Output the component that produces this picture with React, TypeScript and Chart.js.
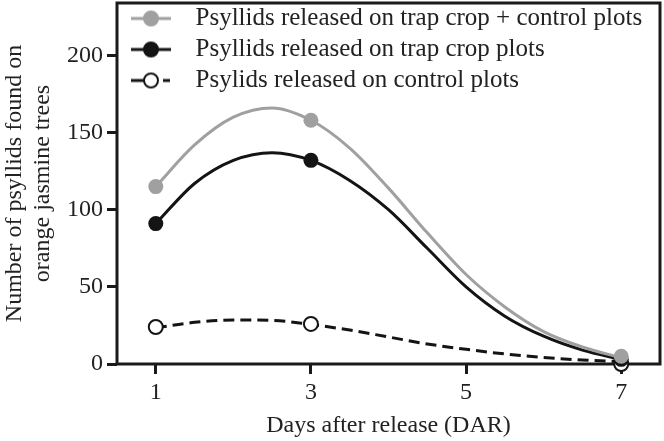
import { useEffect, useRef } from 'react';
import { Chart, registerables } from 'chart.js';

Chart.register(...registerables);

// Observed data (days after release)
const days = [1, 3, 7];
const bothPlots = [115, 158, 5];
const trapPlots = [91, 132, 3];
const controlPlots = [24, 26, 0];

// Fitted curves
const curveDays = [1, 1.5, 2, 2.5, 3, 3.5, 4, 4.5, 5, 5.5, 6, 6.5, 7];
const bothCurve = [115, 142, 160, 166, 158, 140, 114, 85, 58, 37, 21, 11, 4];
const trapCurve = [91, 117, 132, 137, 132, 119, 100, 75, 50, 31, 18, 9, 3];
const controlCurve = [23.5, 27, 28.5, 28.3, 25.6, 22, 17.5, 13, 9.5, 6.5, 4.2, 2.6, 1.5];

const xTicks = [1, 3, 5, 7];
const yTicks = [0, 50, 100, 150, 200];
const seriesLabels = [
  'Psyllids released on trap crop + control plots',
  'Psyllids released on trap crop plots',
  'Psylids released on control plots',
];
const xTitle = 'Days after release (DAR)';
const yTitle = ['Number of psyllids found on', 'orange jasmine trees'];

const GRAY = '#a0a0a0';
const BLACK = '#141414';
const AXIS = '#1a1a1a';
const TEXT = '#222222';
const FONT = "'Liberation Serif', 'Times New Roman', serif";

function legendIcon(color: string, fill: string, dashed: boolean): HTMLCanvasElement {
  const c = document.createElement('canvas');
  c.width = 60;
  c.height = 20;
  const g = c.getContext('2d')!;
  g.strokeStyle = color;
  g.lineWidth = 3;
  if (dashed) {
    g.beginPath();
    g.moveTo(8, 10);
    g.lineTo(22, 10);
    g.stroke();
    g.setLineDash([7, 5]);
    g.beginPath();
    g.moveTo(28, 10);
    g.lineTo(50, 10);
    g.stroke();
    g.setLineDash([]);
  } else {
    g.beginPath();
    g.moveTo(8, 10);
    g.lineTo(48, 10);
    g.stroke();
  }
  g.beginPath();
  g.arc(28, 10, 7, 0, Math.PI * 2);
  g.fillStyle = fill;
  g.fill();
  g.lineWidth = 2;
  g.strokeStyle = color;
  g.stroke();
  return c;
}

const framePlugin = {
  id: 'frame',
  beforeDatasetsDraw(chart: any) {
    const { ctx, chartArea } = chart;
    ctx.save();
    ctx.strokeStyle = AXIS;
    ctx.lineWidth = 3;
    ctx.strokeRect(chartArea.left, chartArea.top, chartArea.right - chartArea.left, chartArea.bottom - chartArea.top);
    ctx.restore();
  },
};

export default function App() {
  const ref = useRef<HTMLCanvasElement | null>(null);

  useEffect(() => {
    if (!ref.current) return;
    const icons = [
      legendIcon(GRAY, GRAY, false),
      legendIcon(BLACK, BLACK, false),
      legendIcon(BLACK, '#ffffff', true),
    ];
    const pts = (ys: number[]) => days.map((d, i) => ({ x: d, y: ys[i] }));
    const crv = (ys: number[]) => curveDays.map((d, i) => ({ x: d, y: ys[i] }));

    const chart = new Chart(ref.current, {
      type: 'line',
      data: {
        datasets: [
          {
            label: seriesLabels[0],
            data: pts(bothPlots),
            showLine: false,
            pointRadius: 7.5,
            pointBackgroundColor: GRAY,
            pointBorderColor: GRAY,
            pointBorderWidth: 0,
            clip: false,
          },
          {
            label: seriesLabels[0] + ' fit',
            data: crv(bothCurve),
            borderColor: GRAY,
            borderWidth: 3,
            pointRadius: 0,
            cubicInterpolationMode: 'monotone',
            fill: false,
          },
          {
            label: seriesLabels[1],
            data: pts(trapPlots),
            showLine: false,
            pointRadius: 7.5,
            pointBackgroundColor: BLACK,
            pointBorderColor: BLACK,
            pointBorderWidth: 0,
            clip: false,
          },
          {
            label: seriesLabels[1] + ' fit',
            data: crv(trapCurve),
            borderColor: BLACK,
            borderWidth: 3,
            pointRadius: 0,
            cubicInterpolationMode: 'monotone',
            fill: false,
          },
          {
            label: seriesLabels[2],
            data: pts(controlPlots),
            showLine: false,
            pointRadius: 7,
            pointBackgroundColor: '#ffffff',
            pointBorderColor: BLACK,
            pointBorderWidth: 2,
            clip: false,
          },
          {
            label: seriesLabels[2] + ' fit',
            data: crv(controlCurve),
            borderColor: BLACK,
            borderWidth: 3,
            borderDash: [11, 6],
            pointRadius: 0,
            cubicInterpolationMode: 'monotone',
            fill: false,
          },
        ],
      },
      options: {
        responsive: false,
        animation: false,
        events: [],
        layout: { autoPadding: false, padding: { top: 3, right: 4, bottom: 0, left: 0 } },
        scales: {
          x: {
            type: 'linear',
            min: 0.5,
            max: 7.5,
            afterBuildTicks: (s: any) => {
              s.ticks = xTicks.map((v) => ({ value: v }));
            },
            afterFit: (s: any) => {
              s.height = 77;
              s.paddingLeft = 0;
              s.paddingRight = 0;
            },
            border: { display: false },
            grid: {
              display: true,
              drawOnChartArea: false,
              drawTicks: true,
              tickLength: 10,
              tickWidth: 3,
              tickColor: AXIS,
            },
            ticks: {
              color: TEXT,
              padding: 4,
              font: { family: FONT, size: 24 },
              maxRotation: 0,
            },
            title: {
              display: true,
              text: xTitle,
              color: TEXT,
              font: { family: FONT, size: 24 },
              padding: { top: 0, bottom: 1 },
            },
          },
          y: {
            type: 'linear',
            min: 0,
            max: 234,
            afterBuildTicks: (s: any) => {
              s.ticks = yTicks.map((v) => ({ value: v }));
            },
            afterFit: (s: any) => {
              s.width = 117;
              s.paddingTop = 0;
              s.paddingBottom = 0;
            },
            border: { display: false },
            grid: {
              display: true,
              drawOnChartArea: false,
              drawTicks: true,
              tickLength: 10,
              tickWidth: 3,
              tickColor: AXIS,
            },
            ticks: {
              color: TEXT,
              padding: 4,
              font: { family: FONT, size: 24 },
            },
            title: {
              display: true,
              text: yTitle,
              color: TEXT,
              font: { family: FONT, size: 24, lineHeight: 1.2 },
              padding: { top: 0, bottom: 0 },
            },
          },
        },
        plugins: {
          tooltip: { enabled: false },
          legend: {
            display: true,
            position: 'chartArea',
            align: 'start',
            labels: {
              usePointStyle: true,
              pointStyleWidth: 60,
              padding: 6,
              color: TEXT,
              font: { family: FONT, size: 25 },
              generateLabels: () =>
                seriesLabels.map((t, i) => ({
                  text: t,
                  pointStyle: icons[i] as any,
                  fillStyle: 'transparent',
                  strokeStyle: 'transparent',
                  lineWidth: 0,
                  hidden: false,
                  datasetIndex: i * 2,
                  fontColor: TEXT,
                })),
            },
          },
        },
      } as any,
      plugins: [framePlugin],
    });
    return () => chart.destroy();
  }, []);

  return (
    <div style={{ position: 'absolute', left: 0, top: 0, width: 664, height: 441, background: '#ffffff' }}>
      <canvas ref={ref} width={664} height={441} style={{ display: 'block', width: 664, height: 441 }} />
    </div>
  );
}
